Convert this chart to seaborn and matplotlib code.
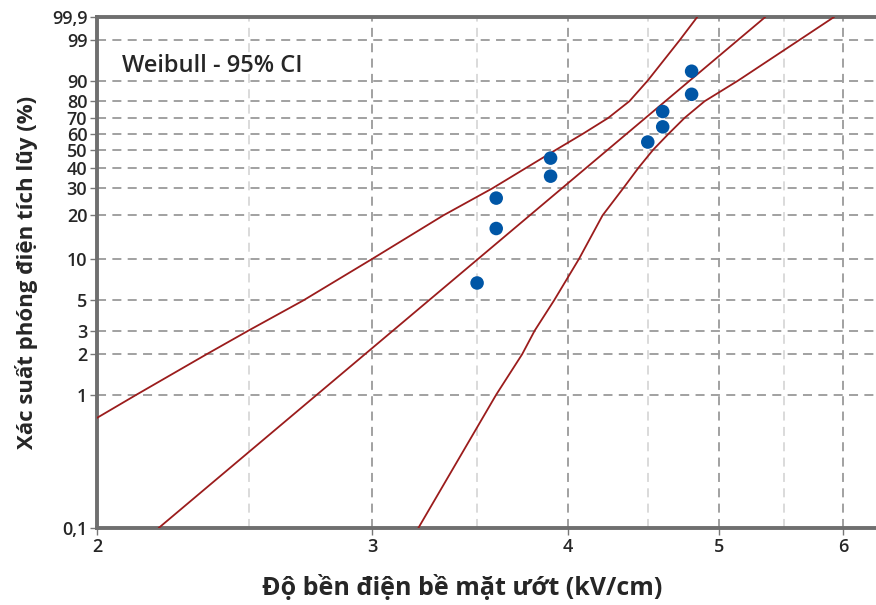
import numpy as np
import pandas as pd
import seaborn as sns
import matplotlib.pyplot as plt

# measured points (kV/cm) and median-rank probabilities (%)
strength = [3.5, 3.6, 3.6, 3.9, 3.9, 4.5, 4.6, 4.6, 4.8, 4.8]
prob = [6.7, 16.3, 26.0, 35.6, 45.2, 54.8, 64.4, 74.0, 83.7, 93.3]

# fitted Weibull line
fit_x = [2.19, 5.35]
fit_p = [0.1, 99.9]

# 95% CI bounds
upper_x = [2.0, 2.12, 2.35, 2.5, 2.71, 3.0, 3.33, 3.58, 3.765, 3.93, 4.09, 4.245, 4.38, 4.50, 4.715, 4.84]
upper_p = [0.67, 1, 2, 3, 5, 10, 20, 30, 40, 50, 60, 70, 80, 90, 99, 99.9]
lower_x = [3.21, 3.60, 3.74, 3.81, 3.92, 4.067, 4.21, 4.34, 4.44, 4.535, 4.64, 4.75, 4.893, 5.141, 5.62, 5.92]
lower_p = [0.1, 1, 2, 3, 5, 10, 20, 30, 40, 50, 60, 70, 80, 90, 99, 99.9]

ytick_vals = [0.1, 1, 2, 3, 5, 10, 20, 30, 40, 50, 60, 70, 80, 90, 99, 99.9]
ytick_labels = ["0,1", "1", "2", "3", "5", "10", "20", "30", "40", "50", "60", "70", "80", "90", "99", "99,9"]
xtick_vals = [2, 3, 4, 5, 6]
xminor_vals = [2.5, 3.5, 4.5, 5.5]


def weib_fwd(p):
    p = np.clip(np.asarray(p, dtype=float), 1e-6, 100 - 1e-6) / 100
    return np.log(-np.log(1 - p))


def weib_inv(w):
    return 100 * (1 - np.exp(-np.exp(np.asarray(w, dtype=float))))


sns.set_style("white")
plt.rcParams['font.family'] = ['Open Sans', 'DejaVu Sans']

fig = plt.figure(figsize=(8.76, 6.05), dpi=100)
ax = fig.add_axes([97 / 876, 1 - 528 / 605, 790 / 876, 511 / 605])
ax.set_xscale('log')
ax.set_yscale('function', functions=(weib_fwd, weib_inv))

red = '#9b1c1c'
for xs, ps in [(upper_x, upper_p), (fit_x, fit_p), (lower_x, lower_p)]:
    sns.lineplot(x=xs, y=ps, ax=ax, color=red, lw=1.3, sort=False, estimator=None, zorder=3)

pts = pd.DataFrame({'x': strength, 'p': prob})
sns.scatterplot(data=pts, x='x', y='p', ax=ax, color='#0056a6', s=95, edgecolor='none', zorder=4)

ax.set_xlim(2, 6.4)
ax.set_ylim(0.1, 99.9)

ax.set_yticks(ytick_vals)
ax.set_yticklabels(ytick_labels)
ax.yaxis.set_minor_locator(plt.NullLocator())
ax.set_xticks(xtick_vals)
ax.set_xticklabels([str(v) for v in xtick_vals])
ax.set_xticks(xminor_vals, minor=True)
ax.xaxis.set_minor_formatter(plt.NullFormatter())

ax.grid(True, which='major', axis='y', color='#9a9a9a', ls=(0, (5, 3.5)), lw=1.3)
ax.grid(True, which='major', axis='x', color='#9a9a9a', ls=(0, (5, 3.5)), lw=1.3)
ax.grid(True, which='minor', axis='x', color='#d8d8d8', ls=(0, (5, 3.5)), lw=1.3)

ax.tick_params(axis='both', which='major', direction='out', length=5, width=1,
               color='#777777', labelsize=13, pad=2, left=True, bottom=True)
ax.tick_params(axis='x', which='minor', length=0)
for lbl in ax.get_xticklabels() + ax.get_yticklabels():
    lbl.set_fontweight('semibold')

for side in ['left', 'bottom', 'top']:
    ax.spines[side].set_color('#6f6f6f')
    ax.spines[side].set_linewidth(2.8)
ax.spines['right'].set_visible(False)

ax.set_xlabel('Độ bền điện bề mặt ướt (kV/cm)', fontsize=18, fontweight='bold')
ax.xaxis.set_label_coords((462 - 97) / 790, -0.092)
ax.set_ylabel('Xác suất phóng điện tích lũy (%)', fontsize=16, fontweight='bold', labelpad=10)

ax.text(0.032, 0.905, 'Weibull - 95% CI', transform=ax.transAxes, fontsize=17,
        fontweight='semibold', ha='left', va='center')

fig.savefig('out.png', dpi=100)
